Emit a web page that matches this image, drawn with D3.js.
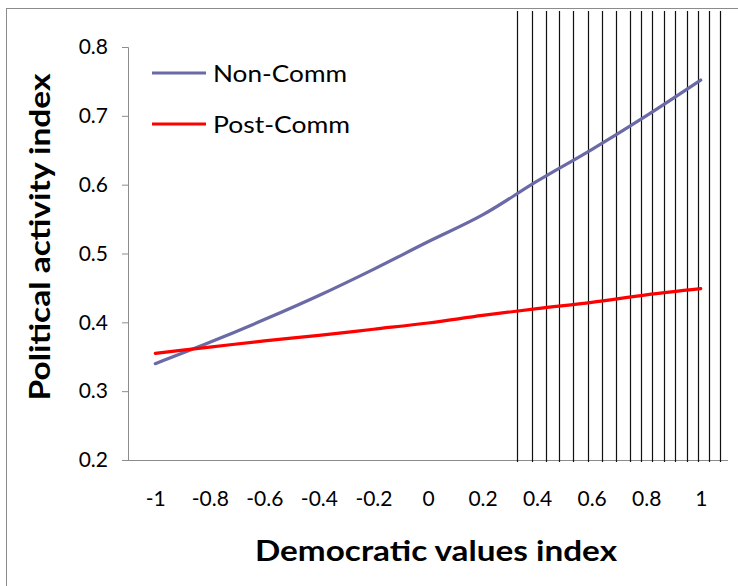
<!DOCTYPE html>
<html>
<head>
<meta charset="utf-8">
<script src="https://cdn.jsdelivr.net/npm/d3@7"></script>
<style>
  html, body { margin: 0; padding: 0; background: #fff; }
  svg { display: block; }
  text { font-family: Lato, "Open Sans", sans-serif; fill: #000; }
</style>
</head>
<body>
<svg id="chart" width="738" height="586"></svg>
<script>
// ---- data ----
const categories = [-1, -0.8, -0.6, -0.4, -0.2, 0, 0.2, 0.4, 0.6, 0.8, 1];
const nonComm  = [0.340, 0.371, 0.404, 0.439, 0.477, 0.517, 0.556, 0.605, 0.651, 0.700, 0.752];
const postComm = [0.355, 0.364, 0.373, 0.381, 0.390, 0.399, 0.410, 0.420, 0.429, 0.440, 0.449];
const seriesNames = ["Non-Comm", "Post-Comm"];
const yTicks = [0.2, 0.3, 0.4, 0.5, 0.6, 0.7, 0.8];
const dropLines = [0.325, 0.380, 0.432, 0.482, 0.533, 0.587, 0.637, 0.688, 0.740, 0.782,
                   0.823, 0.864, 0.905, 0.949, 0.990, 1.030, 1.071];

const svg = d3.select("#chart");
const plot = { left: 128, right: 728, top: 47, bottom: 460 };

// outer chart frame (extends beyond the picture)
svg.append("rect").attr("x", 6.5).attr("y", 8.5).attr("width", 760).attr("height", 620)
  .attr("fill", "none").attr("stroke", "#8c8c8c").attr("stroke-width", 1);

// x: category axis, each category a band; linear scale over the band centres
const x = d3.scaleLinear().domain([-1.1, 1.1]).range([plot.left, plot.right]);
const y = d3.scaleLinear().domain([0.2, 0.8]).range([plot.bottom, plot.top]);

// y axis
const yAxis = d3.axisLeft(y).tickValues(yTicks).tickSize(6).tickPadding(14)
  .tickFormat(d => d.toFixed(1));
const gy = svg.append("g").attr("transform", `translate(${plot.left},0)`).call(yAxis);
gy.select(".domain").attr("stroke", "#8c8c8c");
gy.selectAll(".tick line").attr("stroke", "#8c8c8c");
gy.selectAll(".tick text").style("font-size", "21px").attr("fill", "#000");

// x axis line
svg.append("line").attr("x1", plot.left).attr("x2", plot.right)
  .attr("y1", plot.bottom + 0.5).attr("y2", plot.bottom + 0.5)
  .attr("stroke", "#8c8c8c");

// x tick labels (plain hyphen minus, as in the original)
const xAxis = d3.axisBottom(x).tickValues(categories).tickSize(0).tickPadding(31)
  .tickFormat(d => String(d));
const gx = svg.append("g").attr("transform", `translate(0,${plot.bottom})`).call(xAxis);
gx.select(".domain").remove();
gx.selectAll(".tick text").style("font-size", "21px").attr("fill", "#000");

// vertical lines
svg.append("g").selectAll("line").data(dropLines).join("line")
  .attr("x1", d => Math.round(x(d)) + 0.5).attr("x2", d => Math.round(x(d)) + 0.5)
  .attr("y1", 11).attr("y2", plot.bottom + 2)
  .attr("stroke", "#111").attr("stroke-width", 1.2);

// series lines
const colors = ["#6a6aa6", "#ff0000"];
const series = [nonComm, postComm];
const line = d3.line().x((d, i) => x(categories[i])).y(d => y(d)).curve(d3.curveMonotoneX);
series.forEach((s, k) => {
  svg.append("path").datum(s).attr("d", line)
    .attr("fill", "none").attr("stroke", colors[k]).attr("stroke-width", 3.2)
    .attr("stroke-linecap", "round");
});

// legend
const legY = [73, 124];
const legLen = [134, 137];
seriesNames.forEach((name, k) => {
  svg.append("line").attr("x1", 152).attr("x2", 206).attr("y1", legY[k]).attr("y2", legY[k])
    .attr("stroke", colors[k]).attr("stroke-width", 3);
  svg.append("text").attr("x", 213).attr("y", legY[k]).attr("dy", "0.36em")
    .style("font-size", "24px")
    .attr("textLength", legLen[k]).attr("lengthAdjust", "spacingAndGlyphs")
    .text(name);
});

// axis titles
svg.append("text").attr("x", 436).attr("y", 551).attr("dy", "0.36em")
  .attr("text-anchor", "middle").style("font-size", "28px").style("font-weight", "bold")
  .attr("textLength", 362).attr("lengthAdjust", "spacingAndGlyphs")
  .text("Democratic values index");
svg.append("text").attr("transform", "translate(40,237) rotate(-90)").attr("dy", "0.36em")
  .attr("text-anchor", "middle").style("font-size", "28px").style("font-weight", "bold")
  .attr("textLength", 327).attr("lengthAdjust", "spacingAndGlyphs")
  .text("Political activity index");
</script>
</body>
</html>
